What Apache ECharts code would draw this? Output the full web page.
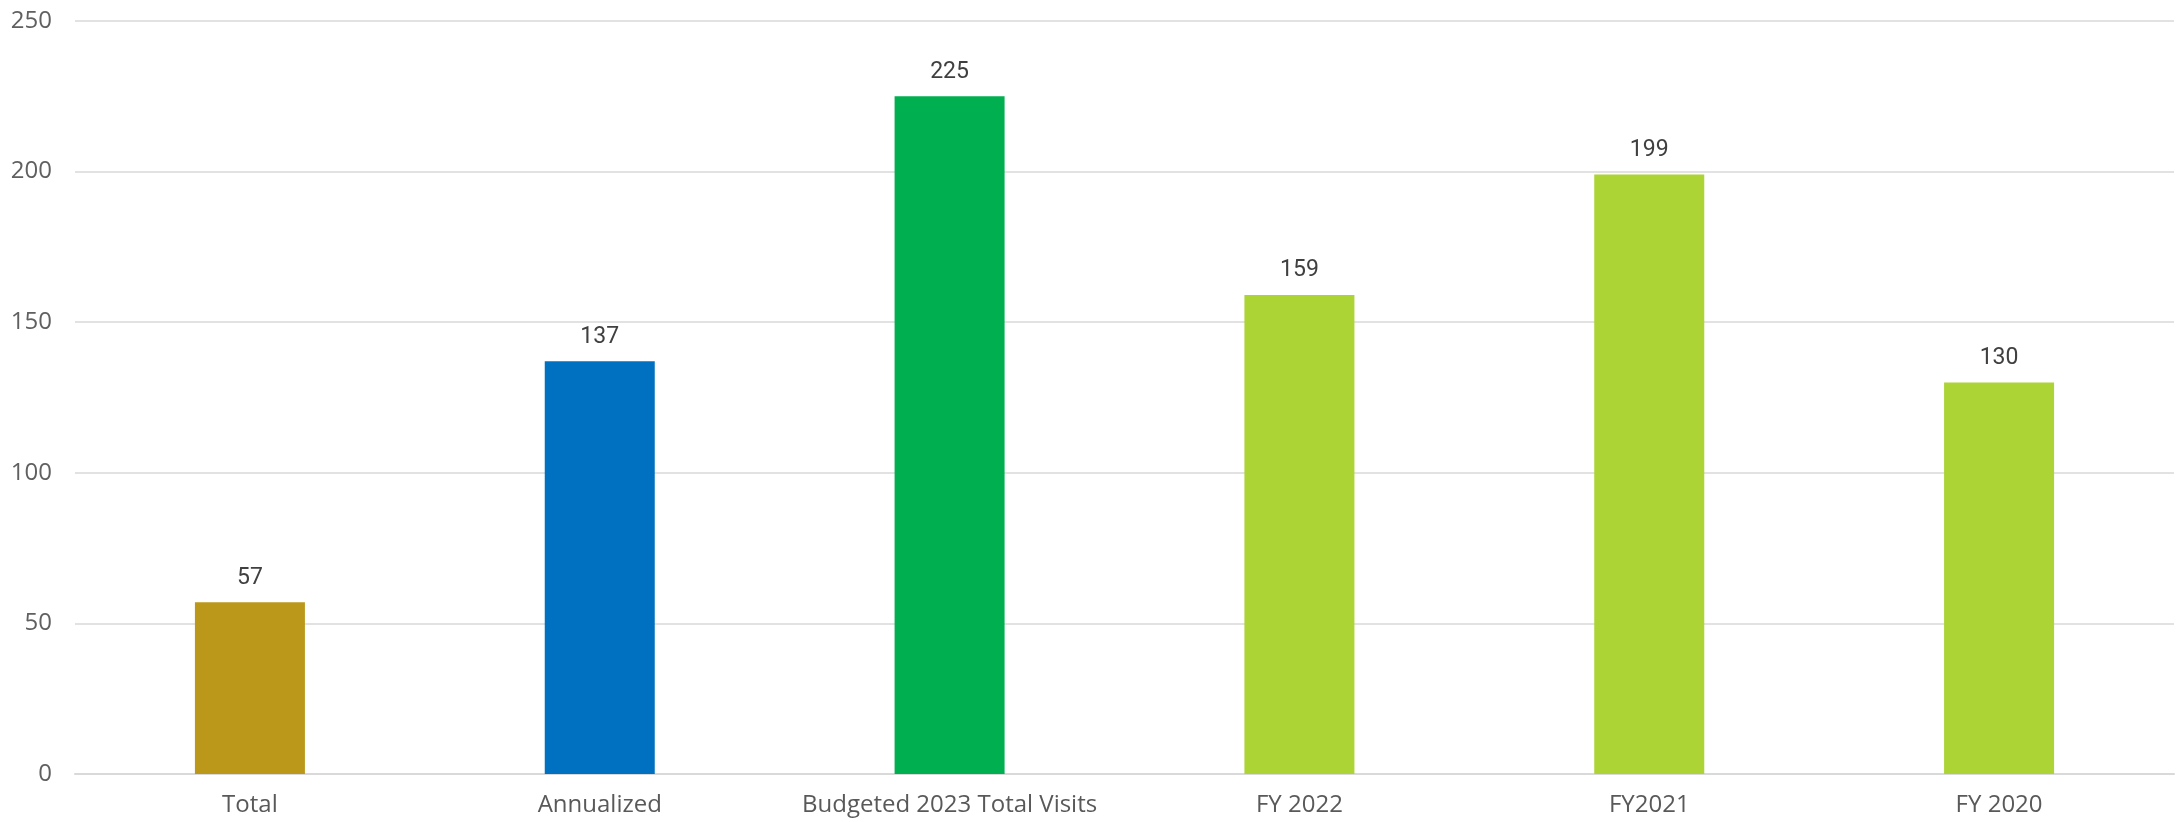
<!DOCTYPE html>
<html>
<head>
<meta charset="utf-8">
<script src="https://cdn.jsdelivr.net/npm/echarts@6/dist/echarts.min.js"></script>
<style>
  html, body { margin: 0; padding: 0; background: #ffffff; }
  #chart { width: 2177px; height: 822px; }
</style>
</head>
<body>
<div id="chart"></div>
<script>
// Visit counts by period
const categories = ['Total', 'Annualized', 'Budgeted 2023 Total Visits', 'FY 2022', 'FY2021', 'FY 2020'];
const visits = [57, 137, 225, 159, 199, 130];
const barColors = ['#BC981A', '#0070C0', '#00AF50', '#ACD434', '#ACD434', '#ACD434'];
const yTicks = [0, 50, 100, 150, 200, 250];

const chart = echarts.init(document.getElementById('chart'), null, { renderer: 'canvas' });

chart.setOption({
  animation: false,
  backgroundColor: '#ffffff',
  grid: { left: 75, right: 3, top: 21, bottom: 48, containLabel: false },
  xAxis: {
    type: 'category',
    data: categories,
    axisLine: { show: true, lineStyle: { color: '#D9D9D9', width: 2 } },
    axisTick: { show: false },
    axisLabel: {
      interval: 0,
      color: '#595959',
      fontFamily: 'Open Sans',
      fontSize: 24,
      margin: 19
    }
  },
  yAxis: {
    type: 'value',
    min: yTicks[0],
    max: yTicks[yTicks.length - 1],
    interval: 50,
    axisLine: { show: false },
    axisTick: { show: false },
    splitLine: { lineStyle: { color: '#D9D9D9', width: 1.5 } },
    axisLabel: {
      color: '#606060',
      fontFamily: 'Open Sans',
      fontSize: 24,
      margin: 23
    }
  },
  series: [{
    type: 'bar',
    data: visits.map((v, i) => ({ value: v, itemStyle: { color: barColors[i] } })),
    barWidth: 110,
    label: {
      show: true,
      position: 'top',
      distance: 13,
      color: '#404040',
      fontFamily: 'Roboto',
      fontSize: 23
    }
  }]
});
</script>
</body>
</html>
